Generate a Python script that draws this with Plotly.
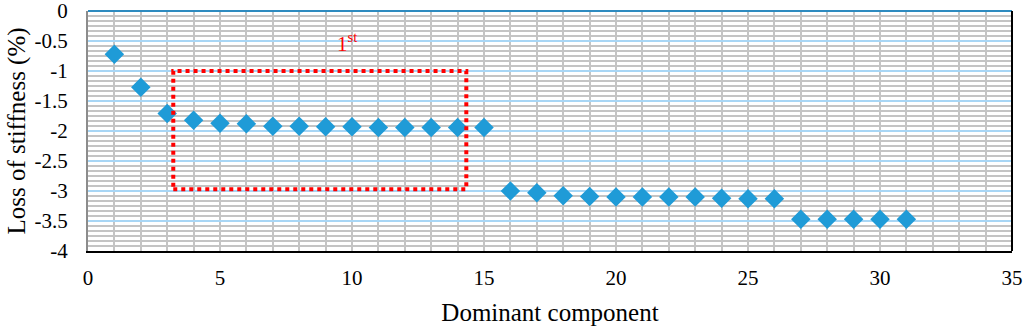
import plotly.graph_objects as go

# dominant component vs. loss of stiffness
component = list(range(1, 32))
loss = [-0.72, -1.27, -1.71, -1.82, -1.87, -1.88, -1.92, -1.92, -1.93, -1.93,
        -1.94, -1.94, -1.94, -1.94, -1.94,
        -3.0, -3.03, -3.08, -3.09, -3.1, -3.1, -3.1, -3.1, -3.12, -3.13, -3.13,
        -3.47, -3.47, -3.47, -3.47, -3.47]

y_ticks = [0, -0.5, -1, -1.5, -2, -2.5, -3, -3.5, -4]
y_labels = ['0', '-0.5', '-1', '-1.5', '-2', '-2.5', '-3', '-3.5', '-4']
x_ticks = [0, 5, 10, 15, 20, 25, 30, 35]

font = 'Liberation Serif, Times New Roman, serif'

trace0 = go.Scatter(x=component,
                    y=loss,
                    mode='markers',
                    marker=dict(symbol='diamond', size=15, color='#1F9BD7'),
                    showlegend=False)

layout = go.Layout(
    width=1024, height=328,
    margin=dict(l=88, r=12, t=11, b=77),
    paper_bgcolor='white', plot_bgcolor='white',
    font=dict(family=font, size=21, color='black'),
    xaxis=dict(range=[0, 35], tickvals=x_ticks, automargin=False,
               ticklabeloverflow='allow',
               showgrid=True, gridcolor='#c4c4c4', gridwidth=1.5,
               minor=dict(dtick=1, showgrid=True, gridcolor='#c4c4c4', gridwidth=1.5),
               showline=True, linecolor='black', linewidth=2,
               ticks='outside', ticklen=7, tickcolor='rgba(0,0,0,0)',
               zeroline=False,
               title=dict(text='Dominant component', standoff=14)),
    yaxis=dict(range=[-4, 0], tickvals=y_ticks, ticktext=y_labels, automargin=False,
               ticklabeloverflow='allow',
               showgrid=True, gridcolor='#a8d6f5', gridwidth=1.5,
               minor=dict(dtick=0.5 / 6, showgrid=True, gridcolor='#c4c4c4', gridwidth=1.5),
               showline=True, linecolor='#8c8c8c', linewidth=2,
               ticks='outside', ticklen=14, tickcolor='rgba(0,0,0,0)',
               zeroline=False,
               title=dict(text='Loss of stiffness (%)', standoff=2)),
    shapes=[
        # highlight box
        dict(type='rect', xref='x', yref='y', x0=3.23, x1=14.33, y0=-2.97, y1=-1.0,
             line=dict(color='#FF0000', width=4, dash='dot')),
        # frame top and right
        dict(type='line', xref='paper', yref='paper', x0=0, x1=1, y0=1, y1=1,
             line=dict(color='#2E8BC0', width=2)),
        dict(type='line', xref='paper', yref='paper', x0=1, x1=1, y0=0, y1=1,
             line=dict(color='black', width=2)),
    ],
    annotations=[
        dict(x=9.8, y=-0.53, xref='x', yref='y', showarrow=False,
             text='1<sup>st</sup>', font=dict(family=font, size=21, color='#FF0000')),
    ],
)

fig = go.Figure(data=[trace0], layout=layout)
fig.write_html('out.html', config={'displayModeBar': False},
               post_script="document.body.style.margin='0';document.body.style.overflow='hidden';")
